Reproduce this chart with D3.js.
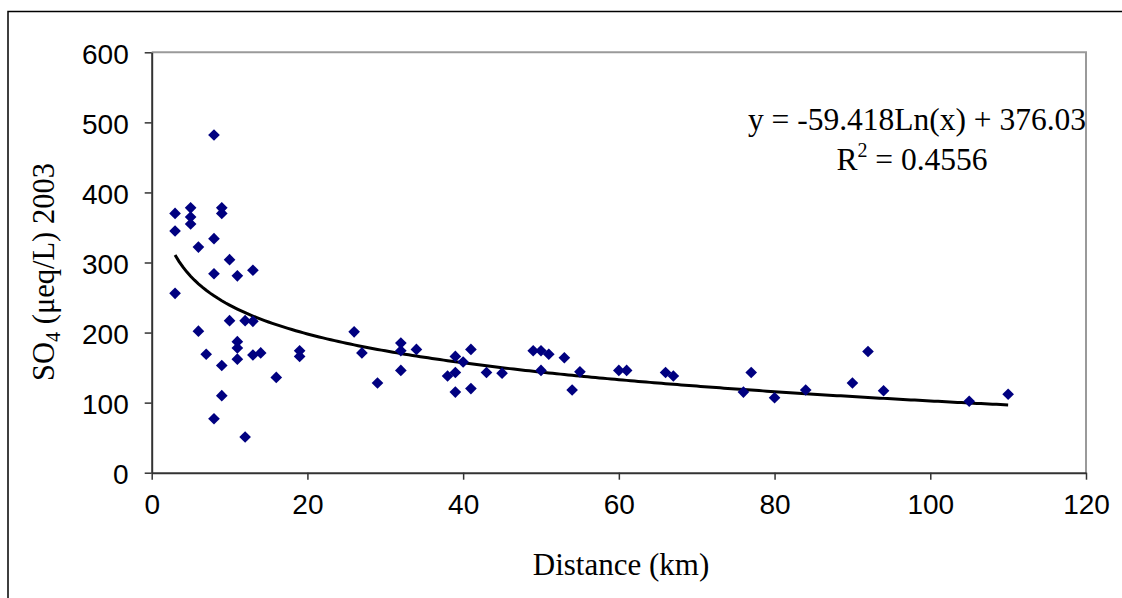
<!DOCTYPE html>
<html>
<head>
<meta charset="utf-8">
<script src="https://cdn.jsdelivr.net/npm/d3@7"></script>
<style>
html,body{margin:0;padding:0;background:#fff;}
svg{display:block;}
</style>
</head>
<body>
<svg id="chart" width="1122" height="598"></svg>
<script>
// Data
const distanceKm = [8,3,5,5,5,9,9,3,8,6,10,8,11,13,3,10,12,13,6,11,11,7,11,13,14,19,19,9,16,9,8,12,
  26,27,29,32,32,32,34,38,39,39,39,40,41,41,43,45,49,50,51,50,53,54,55,
  60,61,66,67,76,77,80,84,90,92,94,105,110];
const so4 = [482,370,378,365,355,378,370,345,334,322,304,284,281,289,256,217,217,216,202,187,178,169,162,168,171,174,166,153,136,110,77,51,
  201,171,128,185,174,146,176,138,166,143,115,158,176,120,143,142,174,174,169,146,164,118,144,
  146,146,143,138,115,143,107,118,128,173,117,102,112];
const xTicks = [0,20,40,60,80,100,120];
const yTicks = [0,100,200,300,400,500,600];
const trendCoef = -59.418, trendConst = 376.03;
const eqText = "y = -59.418Ln(x) + 376.03";
const r2Text = "0.4556";

const svg = d3.select("#chart");
const L = 151.7, R = 1086, T = 52.3, B = 472.7;
const x = d3.scaleLinear().domain([0,120]).range([L,R]);
const y = d3.scaleLinear().domain([0,600]).range([B,T]);

// outer chart border
svg.append("path").attr("d","M8,598 L8,11.5 L1122,11.5").attr("fill","none").attr("stroke","#000").attr("stroke-width",1.5);

// plot area border (top/right grey)
svg.append("path").attr("d",`M${L},${T} L${R},${T} L${R},${B}`).attr("fill","none").attr("stroke","#9a9a9a").attr("stroke-width",2);

// axes
const xAxis = d3.axisBottom(x).tickValues(xTicks).tickSizeInner(7).tickSizeOuter(0).tickPadding(14);
const yAxis = d3.axisLeft(y).tickValues(yTicks).tickSizeInner(7).tickSizeOuter(0).tickPadding(16);
const gx = svg.append("g").attr("transform",`translate(0,${B})`).call(xAxis);
const gy = svg.append("g").attr("transform",`translate(${L},0)`).call(yAxis);
[gx,gy].forEach(g=>{
  g.select(".domain").attr("stroke","#333").attr("stroke-width",2);
  g.selectAll(".tick line").attr("stroke","#333").attr("stroke-width",1.5);
  g.selectAll(".tick text").attr("font-family","'Liberation Sans', Arial, sans-serif").attr("font-size",28).attr("fill","#000");
});
gx.selectAll(".tick line").attr("y2",7);
gy.selectAll(".tick text").attr("dy","0.4em");

// trend line
const trendX = d3.range(3, 110.01, 0.5);
const line = d3.line().x(d=>x(d)).y(d=>y(trendCoef*Math.log(d)+trendConst));
svg.append("path").datum(trendX).attr("d",line).attr("fill","none").attr("stroke","#000").attr("stroke-width",3);

// points
const diamond = d3.symbol().type(d3.symbolSquare).size(68);
svg.append("g").selectAll("path").data(distanceKm.map((d,i)=>[d,so4[i]])).join("path")
  .attr("d",diamond)
  .attr("transform",d=>`translate(${x(d[0])},${y(d[1])}) rotate(45)`)
  .attr("fill","#000080");

// equation
const serif = "'Liberation Serif','Times New Roman',serif";
svg.append("text").attr("x",917).attr("y",130).attr("text-anchor","middle")
  .attr("font-family",serif).attr("font-size",31.5).text(eqText);
const r2 = svg.append("text").attr("x",912).attr("y",170).attr("text-anchor","middle")
  .attr("font-family",serif).attr("font-size",31.5);
r2.append("tspan").text("R");
r2.append("tspan").attr("font-size",20).attr("dy",-13).text("2");
r2.append("tspan").attr("dy",13).text(" = " + r2Text);

// axis titles
svg.append("text").attr("x",621).attr("y",575).attr("text-anchor","middle")
  .attr("font-family",serif).attr("font-size",31).text("Distance (km)");
const yt = svg.append("text").attr("transform","translate(54,272) rotate(-90)").attr("text-anchor","middle")
  .attr("font-family",serif).attr("font-size",30.5);
yt.append("tspan").text("SO");
yt.append("tspan").attr("font-size",20).attr("dy",6).text("4");
yt.append("tspan").attr("dy",-6).text(" (μeq/L) 2003");
</script>
</body>
</html>
